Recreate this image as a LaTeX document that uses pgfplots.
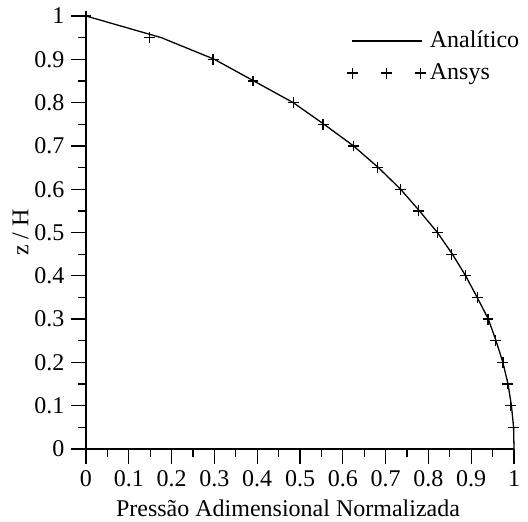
\documentclass[border=0pt]{standalone}
\usepackage{fontspec}
\setmainfont{Liberation Serif}
\usepackage{pgfplots}
\pgfplotsset{compat=1.18}
\pgfplotsset{
  lineleg/.style={legend image code/.code={\draw[##1] (0pt,0pt) -- (35pt,0pt);}},
  markleg/.style={legend image code/.code={\draw[##1] plot[only marks] coordinates {(0pt,0pt) (17pt,0pt) (34pt,0pt)};}},
}
\begin{document}
\begin{tikzpicture}
\begin{axis}[
  at={(0,0)}, anchor=south west,
  width=214pt, height=216.5pt, scale only axis,
  xmin=0, xmax=1, ymin=0, ymax=1,
  clip=false,
  axis lines=left,
  axis line style={-, line width=0.65pt, black},
  xtick={0,0.1,0.2,0.3,0.4,0.5,0.6,0.7,0.8,0.9,1},
  ytick={0,0.1,0.2,0.3,0.4,0.5,0.6,0.7,0.8,0.9,1},
  minor x tick num=1, minor y tick num=1,
  tick align=outside,
  major tick length=7.3pt, minor tick length=3.8pt,
  every tick/.style={line width=0.65pt, black},
  /pgf/number format/assume math mode=true,
  ticklabel style={font=\fontsize{12}{14}\selectfont},
  label style={font=\fontsize{12}{14}\selectfont},
  xlabel={Pressão Adimensional Normalizada},
  ylabel={z / H},
  xlabel style={at={(axis description cs:0.472,-0.155)}, anchor=base},
  ylabel style={at={(axis description cs:-0.153,0.5)}, anchor=center},
  legend cell align=left,
  legend style={draw=none, fill=none, at={(axis description cs:0.609,0.9686)}, anchor=north west,
    inner sep=0pt, row sep=4.9pt, font=\fontsize{12}{14}\selectfont,
    nodes={text height=8.5pt, text depth=2.6pt, inner ysep=0pt}},
]
\addplot[black, line width=0.65pt, lineleg]
  coordinates {(0,1) (0.176,0.95) (0.300,0.9) (0.392,0.85) (0.484,0.8) (0.556,0.75)
  (0.625,0.7) (0.683,0.65) (0.735,0.6) (0.779,0.55) (0.821,0.5) (0.856,0.45)
  (0.887,0.4) (0.914,0.35) (0.940,0.3) (0.958,0.25) (0.974,0.2) (0.986,0.15)
  (0.994,0.1) (0.999,0.05) (1,0)};
\addlegendentry{Analítico}
\addplot[black, only marks, mark=+, mark size=2.7pt, mark options={line width=0.65pt}, markleg]
  coordinates {(0,1) (0.149,0.95) (0.297,0.9) (0.390,0.85) (0.484,0.8) (0.554,0.75)
  (0.625,0.7) (0.681,0.65) (0.734,0.6) (0.777,0.55) (0.821,0.5) (0.854,0.45)
  (0.886,0.4) (0.914,0.35) (0.939,0.3) (0.957,0.25) (0.974,0.2) (0.984,0.15)
  (0.992,0.1) (0.998,0.05)};
\addlegendentry{Ansys}
\end{axis}
\pgfresetboundingbox
\useasboundingbox (-43pt,-36pt) rectangle (221pt,224.5pt);
\end{tikzpicture}
\end{document}
